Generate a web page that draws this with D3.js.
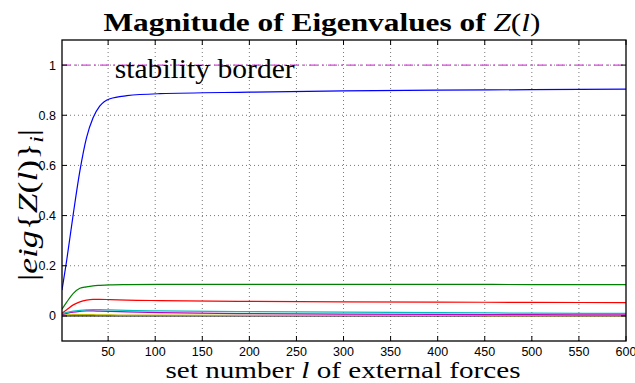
<!DOCTYPE html>
<html>
<head>
<meta charset="utf-8">
<script src="https://cdn.jsdelivr.net/npm/d3@7"></script>
<style>
  body { margin: 0; background: #fff; }
  svg { display: block; }
  .tick-label { font-family: "Liberation Sans", Arial, sans-serif; font-size: 12.5px; fill: #000; }
  .serif { font-family: "Liberation Serif", "DejaVu Serif", serif; fill: #000; }
</style>
</head>
<body>
<svg id="chart" width="635" height="383"></svg>
<script>
// set numbers l where the curves were sampled
const setNumbers = [1, 6, 13, 20, 27, 34, 41, 52, 70, 105, 200, 300, 400, 500, 600];

// magnitudes of the eigenvalues
const eigBlue    = [0.103, 0.222, 0.407, 0.578, 0.710, 0.790, 0.836, 0.866, 0.878, 0.886, 0.892, 0.897, 0.900, 0.902, 0.904];
const eigGreen   = [0.027, 0.055, 0.090, 0.110, 0.116, 0.120, 0.122, 0.124, 0.125, 0.126, 0.126, 0.126, 0.126, 0.125, 0.125];
const eigRed     = [0.011, 0.025, 0.044, 0.056, 0.063, 0.066, 0.066, 0.065, 0.063, 0.061, 0.058, 0.056, 0.055, 0.054, 0.053];
const eigCyan    = [0.008, 0.014, 0.019, 0.022, 0.024, 0.025, 0.025, 0.024, 0.022, 0.020, 0.017, 0.015, 0.013, 0.011, 0.010];
const eigMagenta = [0.005, 0.010, 0.015, 0.018, 0.020, 0.020, 0.019, 0.018, 0.016, 0.013, 0.009, 0.007, 0.006, 0.005, 0.004];
const eigYellow  = [0.002, 0.004, 0.005, 0.005, 0.005, 0.005, 0.004, 0.004, 0.003, 0.003, 0.002, 0.002, 0.002, 0.001, 0.001];
const eigBlack   = [0.000, 0.000, 0.000, 0.000, 0.000, 0.000, 0.000, 0.000, 0.000, 0.000, 0.000, 0.000, 0.000, 0.000, 0.000];

const xTicks = [50, 100, 150, 200, 250, 300, 350, 400, 450, 500, 550, 600];
const yTicks = [0, 0.2, 0.4, 0.6, 0.8, 1];
const stabilityBorder = 1;

const series = [
  {values: eigBlue,    color: '#0000ff'},
  {values: eigGreen,   color: '#008000'},
  {values: eigRed,     color: '#ff0000'},
  {values: eigCyan,    color: '#00bfbf'},
  {values: eigMagenta, color: '#bf00bf'},
  {values: eigYellow,  color: '#bfbf00'},
  {values: eigBlack,   color: '#000000'}
];

const margin = {top: 40, right: 9, bottom: 42, left: 62};
const width = 635 - margin.left - margin.right;
const height = 383 - margin.top - margin.bottom;

const svg = d3.select('#chart');
const g = svg.append('g').attr('transform', `translate(${margin.left},${margin.top})`);

const x = d3.scaleLinear().domain([1, 600]).range([0, width]);
const y = d3.scaleLinear().domain([-0.1, 1.1]).range([height, 0]);

svg.append('defs').append('clipPath').attr('id', 'plot-clip')
  .append('rect').attr('width', width).attr('height', height);

// grid
g.append('g').selectAll('line').data(xTicks.slice(0, -1)).enter().append('line')
  .attr('x1', d => x(d)).attr('x2', d => x(d))
  .attr('y1', 0).attr('y2', height)
  .attr('stroke', '#777').attr('stroke-width', 1).attr('stroke-dasharray', '1,3');
g.append('g').selectAll('line').data(yTicks).enter().append('line')
  .attr('x1', 0).attr('x2', width)
  .attr('y1', d => y(d)).attr('y2', d => y(d))
  .attr('stroke', '#777').attr('stroke-width', 1).attr('stroke-dasharray', '1,3');

// stability border
g.append('line')
  .attr('x1', 0).attr('x2', width)
  .attr('y1', y(stabilityBorder)).attr('y2', y(stabilityBorder))
  .attr('stroke', '#e040e0').attr('stroke-width', 1.3)
  .attr('stroke-dasharray', '9,4,2,4');

// curves
const line = d3.line()
  .x((d, i) => x(setNumbers[i]))
  .y(d => y(d))
  .curve(d3.curveMonotoneX);

const curves = g.append('g').attr('clip-path', 'url(#plot-clip)');
series.slice().reverse().forEach(s => {
  curves.append('path')
    .attr('d', line(s.values))
    .attr('fill', 'none')
    .attr('stroke', s.color)
    .attr('stroke-width', 1.2);
});

// inward ticks on all four sides
const tickLen = 5;
const ticks = g.append('g').attr('stroke', '#000').attr('stroke-width', 1);
xTicks.forEach(t => {
  ticks.append('line').attr('x1', x(t)).attr('x2', x(t)).attr('y1', height).attr('y2', height - tickLen);
  ticks.append('line').attr('x1', x(t)).attr('x2', x(t)).attr('y1', 0).attr('y2', tickLen);
});
yTicks.forEach(t => {
  ticks.append('line').attr('x1', 0).attr('x2', tickLen).attr('y1', y(t)).attr('y2', y(t));
  ticks.append('line').attr('x1', width).attr('x2', width - tickLen).attr('y1', y(t)).attr('y2', y(t));
});

// box
g.append('rect')
  .attr('width', width).attr('height', height)
  .attr('fill', 'none').attr('stroke', '#000').attr('stroke-width', 1.3);

// tick labels
g.append('g').selectAll('text').data(xTicks).enter().append('text')
  .attr('class', 'tick-label')
  .attr('x', d => x(d)).attr('y', height + 14.5)
  .attr('text-anchor', 'middle')
  .text(d => d);
g.append('g').selectAll('text').data(yTicks).enter().append('text')
  .attr('class', 'tick-label')
  .attr('x', -6).attr('y', d => y(d) + 4.5)
  .attr('text-anchor', 'end')
  .text(d => d);

// stability label
g.append('text')
  .attr('class', 'serif')
  .attr('x', x(57)).attr('y', y(stabilityBorder) + 13)
  .attr('font-size', 27)
  .attr('textLength', 180).attr('lengthAdjust', 'spacingAndGlyphs')
  .text('stability border');

// title
const title = svg.append('text')
  .attr('class', 'serif')
  .attr('x', 322).attr('y', 31)
  .attr('text-anchor', 'middle')
  .attr('font-size', 26)
  .attr('textLength', 437).attr('lengthAdjust', 'spacingAndGlyphs');
title.append('tspan').attr('font-weight', 'bold').text('Magnitude of Eigenvalues of ');
title.append('tspan').attr('font-style', 'italic').text('Z');
title.append('tspan').text('(');
title.append('tspan').attr('font-style', 'italic').text('l');
title.append('tspan').text(')');

// x label
const xLabel = svg.append('text')
  .attr('class', 'serif')
  .attr('x', 343).attr('y', 378)
  .attr('text-anchor', 'middle')
  .attr('font-size', 23)
  .attr('textLength', 355).attr('lengthAdjust', 'spacingAndGlyphs');
xLabel.append('tspan').text('set number ');
xLabel.append('tspan').attr('font-style', 'italic').text('l');
xLabel.append('tspan').text(' of external forces');

// y label
const yLabel = svg.append('text')
  .attr('class', 'serif')
  .attr('transform', 'translate(37,205) rotate(-90)')
  .attr('text-anchor', 'middle')
  .attr('font-size', 27)
  .attr('textLength', 152).attr('lengthAdjust', 'spacingAndGlyphs');
yLabel.append('tspan').text('|');
yLabel.append('tspan').attr('font-style', 'italic').text('eig');
yLabel.append('tspan').text('{');
yLabel.append('tspan').attr('font-style', 'italic').text('Z');
yLabel.append('tspan').text('(');
yLabel.append('tspan').attr('font-style', 'italic').text('l');
yLabel.append('tspan').text(')}');
yLabel.append('tspan').attr('font-style', 'italic').attr('font-size', 18).attr('dy', 6).text('i');
yLabel.append('tspan').attr('dy', -6).text('|');
</script>
</body>
</html>
